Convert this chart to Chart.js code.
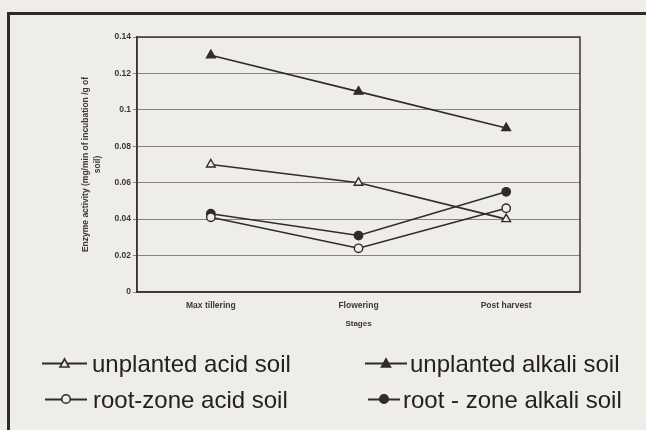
<!DOCTYPE html>
<html>
<head>
<meta charset="utf-8">
<script src="https://cdn.jsdelivr.net/npm/chart.js@4"></script>
<style>
    body { margin: 0; background: #eeede8; }
    #wrap { position: relative; width: 646px; height: 430px; overflow: hidden; }
    #frame { position: absolute; left: 7px; top: 12px; width: 700px; height: 500px;
             border-top: 3px solid #2e2b28; border-left: 3px solid #2e2b28; }
    #chart { position: absolute; left: 0; top: 0; }
    .mark { position: absolute; }
    .label { position: absolute; font-family: "Liberation Sans", Arial, sans-serif; font-size: 24px;
             line-height: 28px; color: #232120; white-space: nowrap; }
</style>
</head>
<body>
<div id="wrap">
    <div id="frame"></div>
    <canvas id="chart" width="646" height="430"></canvas>
</div>
<script>
// values
var stages = ["Max tillering", "Flowering", "Post harvest"];
var unplantedAcid = [0.07, 0.06, 0.04];
var unplantedAlkali = [0.13, 0.11, 0.09];
var rootZoneAcid = [0.041, 0.024, 0.046];
var rootZoneAlkali = [0.043, 0.031, 0.055];
var seriesNames = ["unplanted acid soil", "unplanted alkali soil", "root-zone acid soil", "root - zone alkali soil"];
var yTicks = [0, 0.02, 0.04, 0.06, 0.08, 0.1, 0.12, 0.14];
var yTickLabels = ["0", "0.02", "0.04", "0.06", "0.08", "0.1", "0.12", "0.14"];

var ink = "#2f2c2a";
var paper = "#eeede8";
var tickFont = { family: "Liberation Sans", size: 8.5, weight: "bold" };

function series(label, data, shape, filled) {
    return {
        label: label,
        data: data,
        borderColor: ink,
        borderWidth: 1.6,
        pointStyle: shape,
        pointRadius: shape === "triangle" ? 5 : 4.2,
        pointBorderWidth: 1.4,
        pointBorderColor: ink,
        pointBackgroundColor: filled ? ink : paper,
        fill: false,
        tension: 0
    };
}

var datasets = [
    series(seriesNames[0], unplantedAcid, "triangle", false),
    series(seriesNames[1], unplantedAlkali, "triangle", true),
    series(seriesNames[2], rootZoneAcid, "circle", false),
    series(seriesNames[3], rootZoneAlkali, "circle", true)
];

// top and right edges of the plot box
var boxPlugin = {
    id: "box",
    afterDraw: function (chart) {
        var a = chart.chartArea;
        var ctx = chart.ctx;
        ctx.save();
        ctx.strokeStyle = "#3a3633";
        ctx.lineWidth = 1.5;
        ctx.strokeRect(a.left, a.top, a.right - a.left, a.bottom - a.top);
        ctx.restore();
    }
};

var chart = new Chart(document.getElementById("chart"), {
    type: "line",
    data: { labels: stages, datasets: datasets },
    plugins: [boxPlugin],
    options: {
        responsive: false,
        animation: false,
        layout: { padding: { left: 76, top: 37, right: 66, bottom: 100 } },
        plugins: { legend: { display: false }, tooltip: { enabled: false } },
        scales: {
            x: {
                offset: true,
                grid: { display: false, drawTicks: false },
                border: { color: "#3a3633", width: 1.5 },
                ticks: { color: "#3b3835", font: tickFont, padding: 9, maxRotation: 0 },
                title: { display: true, text: "Stages", color: "#3b3835",
                         font: { family: "Liberation Sans", size: 8, weight: "bold" },
                         padding: { top: 0, bottom: 1 } },
                afterFit: function (scale) { scale.height = 38; }
            },
            y: {
                min: 0,
                max: 0.14,
                afterBuildTicks: function (scale) {
                    scale.ticks = yTicks.map(function (v) { return { value: v }; });
                },
                grid: { color: "#86837f", lineWidth: 1, tickLength: 4 },
                border: { color: "#3a3633", width: 1.5 },
                ticks: {
                    color: "#3b3835", font: tickFont, padding: 2,
                    callback: function (value, index) { return yTickLabels[index]; }
                },
                title: { display: true, text: ["Enzyme activity (mg/min of incubation /g of", "soil)"],
                         color: "#3b3835",
                         font: { family: "Liberation Sans", size: 8.5, weight: "bold", lineHeight: 1.4 },
                         padding: { top: 4, bottom: 0 } },
                afterFit: function (scale) { scale.width = 61; }
            }
        }
    }
});

// legend in two columns below the chart, drawn from the dataset styles
var legendSpots = [
    { mx: 42, my: 363, mw: 45, tx: 92, ty: 350 },
    { mx: 365, my: 363, mw: 42, tx: 410, ty: 350 },
    { mx: 45, my: 399, mw: 42, tx: 93, ty: 386 },
    { mx: 368, my: 399, mw: 32, tx: 403, ty: 386 }
];

function legendMark(ds, w) {
    var c = w / 2;
    var fill = ds.pointBackgroundColor;
    var shape;
    if (ds.pointStyle === "triangle") {
        shape = '<polygon points="' + c + ',3 ' + (c - 4.5) + ',11 ' + (c + 4.5) + ',11" fill="' + fill +
                '" stroke="' + ink + '" stroke-width="1.6"/>';
    } else {
        shape = '<circle cx="' + c + '" cy="7" r="4.3" fill="' + fill + '" stroke="' + ink + '" stroke-width="1.6"/>';
    }
    return '<svg width="' + w + '" height="14"><line x1="0" y1="7.5" x2="' + w + '" y2="7.5" stroke="' + ink +
           '" stroke-width="2"/>' + shape + '</svg>';
}

var wrap = document.getElementById("wrap");
datasets.forEach(function (ds, i) {
    var spot = legendSpots[i];
    var mark = document.createElement("div");
    mark.className = "mark";
    mark.style.left = spot.mx + "px";
    mark.style.top = (spot.my - 7) + "px";
    mark.innerHTML = legendMark(ds, spot.mw);
    wrap.appendChild(mark);

    var label = document.createElement("div");
    label.className = "label";
    label.style.left = spot.tx + "px";
    label.style.top = spot.ty + "px";
    label.textContent = ds.label;
    wrap.appendChild(label);
});
</script>
</body>
</html>
